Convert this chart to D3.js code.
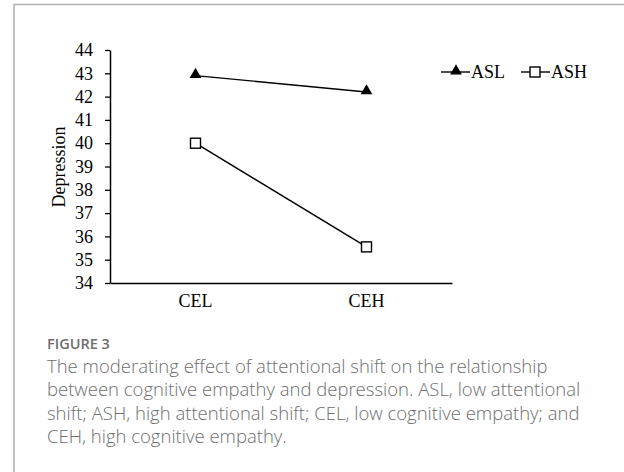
<!DOCTYPE html>
<html>
<head>
<meta charset="utf-8">
<script src="https://cdn.jsdelivr.net/npm/d3@7"></script>
<style>
  body { margin: 0; background: #fff; }
  svg { display: block; }
</style>
</head>
<body>
<div id="chart"></div>
<script>
// data
var categories = ["CEL", "CEH"];
var aslValues = [42.9, 42.2];
var ashValues = [40.0, 35.55];
var yTicks = [34, 35, 36, 37, 38, 39, 40, 41, 42, 43, 44];
var seriesNames = ["ASL", "ASH"];
var captionTitle = "FIGURE 3";
var captionLines = [
  "The moderating effect of attentional shift on the relationship",
  "between cognitive empathy and depression. ASL, low attentional",
  "shift; ASH, high attentional shift; CEL, low cognitive empathy; and",
  "CEH, high cognitive empathy."
];

var W = 624, H = 472;
var svg = d3.select("#chart").append("svg")
  .attr("width", W).attr("height", H);

// frame (top and left rule)
svg.append("line").attr("x1", 14).attr("x2", W).attr("y1", 4.5).attr("y2", 4.5)
  .attr("stroke", "#b0b0b0").attr("stroke-width", 1.5);
svg.append("line").attr("x1", 14).attr("x2", 14).attr("y1", 4).attr("y2", H)
  .attr("stroke", "#b0b0b0").attr("stroke-width", 1.5);

var pLeft = 110, pRight = 452, pTop = 50, pBottom = 283;

var x = d3.scaleBand().domain(categories).range([pLeft, pRight]);
var y = d3.scaleLinear().domain([34, 44]).range([pBottom, pTop]);

var serif = "'Liberation Serif', 'Times New Roman', serif";
var fs = 18;

// y axis
var yAxis = svg.append("g")
  .attr("transform", "translate(" + pLeft + ",0)")
  .call(d3.axisLeft(y).tickValues(yTicks).tickSize(5).tickPadding(12).tickSizeOuter(0));
yAxis.select(".domain").attr("stroke", "#000").attr("stroke-width", 1.5);
yAxis.selectAll(".tick line").attr("stroke", "#000").attr("stroke-width", 1.3);
yAxis.selectAll("text").attr("font-family", serif).attr("font-size", fs).attr("fill", "#000");

// x axis
var xAxis = svg.append("g")
  .attr("transform", "translate(0," + pBottom + ")")
  .call(d3.axisBottom(x).tickSize(0).tickPadding(11).tickSizeOuter(0));
xAxis.select(".domain").attr("stroke", "#000").attr("stroke-width", 1.5);
xAxis.selectAll("text").attr("font-family", serif).attr("font-size", fs).attr("fill", "#000");

// y label
svg.append("text")
  .attr("transform", "translate(65,167) rotate(-90)")
  .attr("text-anchor", "middle")
  .attr("font-family", serif).attr("font-size", fs)
  .text("Depression");

var cx = function(d, i) { return x(categories[i]) + x.bandwidth() / 2; };

var line = d3.line()
  .x(function(d, i) { return cx(d, i); })
  .y(function(d) { return y(d); });

// ASL
svg.append("path").datum(aslValues)
  .attr("d", line).attr("fill", "none").attr("stroke", "#000").attr("stroke-width", 1.4);
var tri = d3.symbol().type(d3.symbolTriangle).size(60);
svg.selectAll(".asl").data(aslValues).enter().append("path")
  .attr("class", "asl")
  .attr("d", tri)
  .attr("transform", function(d, i) { return "translate(" + cx(d, i) + "," + (y(d) - 1) + ")"; })
  .attr("fill", "#000");

// ASH
svg.append("path").datum(ashValues)
  .attr("d", line).attr("fill", "none").attr("stroke", "#000").attr("stroke-width", 1.4);
svg.selectAll(".ash").data(ashValues).enter().append("rect")
  .attr("class", "ash")
  .attr("x", function(d, i) { return cx(d, i) - 5; })
  .attr("y", function(d) { return y(d) - 5; })
  .attr("width", 10).attr("height", 10)
  .attr("fill", "#fff").attr("stroke", "#000").attr("stroke-width", 1.4);

// legend
var lg = svg.append("g").attr("transform", "translate(0,72)");
lg.append("line").attr("x1", 441).attr("x2", 470).attr("y1", 0).attr("y2", 0)
  .attr("stroke", "#000").attr("stroke-width", 1.4);
lg.append("path").attr("d", tri).attr("transform", "translate(456,-1)").attr("fill", "#000");
lg.append("text").attr("x", 471).attr("y", 6)
  .attr("font-family", serif).attr("font-size", fs).text(seriesNames[0]);
lg.append("line").attr("x1", 521).attr("x2", 550).attr("y1", 0).attr("y2", 0)
  .attr("stroke", "#000").attr("stroke-width", 1.4);
lg.append("rect").attr("x", 530).attr("y", -5).attr("width", 10).attr("height", 10)
  .attr("fill", "#fff").attr("stroke", "#000").attr("stroke-width", 1.4);
lg.append("text").attr("x", 551).attr("y", 6)
  .attr("font-family", serif).attr("font-size", fs).text(seriesNames[1]);

// caption
var sans = "'Open Sans', 'Noto Sans', sans-serif";
svg.append("text").attr("x", 47).attr("y", 349)
  .attr("font-family", sans).attr("font-size", 14.5).attr("font-weight", 600)
  .attr("fill", "#6e6e6e").text(captionTitle);
svg.selectAll(".cap").data(captionLines).enter().append("text")
  .attr("class", "cap")
  .attr("x", 47)
  .attr("y", function(d, i) { return 373 + i * 23.3; })
  .attr("font-family", sans).attr("font-size", 18.5).attr("font-weight", 300)
  .attr("fill", "#6e6e6e")
  .text(function(d) { return d; });
</script>
</body>
</html>
